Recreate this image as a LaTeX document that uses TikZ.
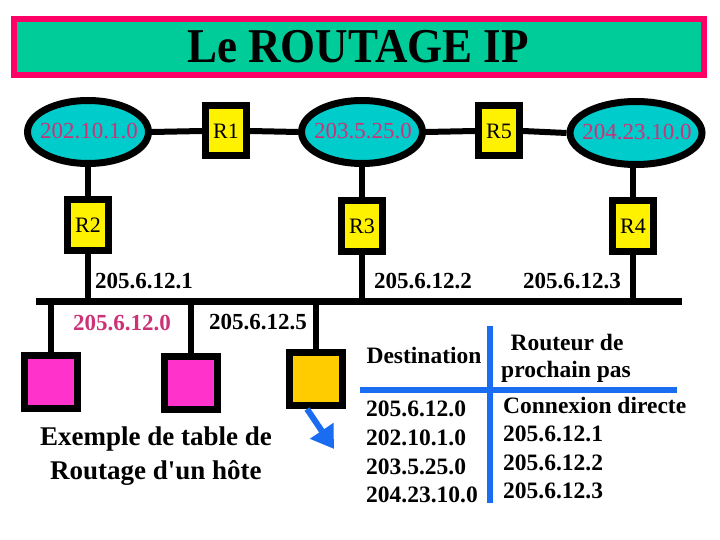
\documentclass[tikz,border=0pt]{standalone}
\usepackage{fontspec}
\setmainfont{Liberation Serif}
\newfontfamily\capfont{Liberation Serif}
\usetikzlibrary{arrows.meta,shapes.geometric}
\definecolor{titlefill}{RGB}{0,204,153}
\definecolor{titleborder}{RGB}{255,0,102}
\definecolor{netfill}{RGB}{0,204,204}
\definecolor{netlabel}{RGB}{204,51,119}
\definecolor{hostpink}{RGB}{255,51,204}
\definecolor{hostorange}{RGB}{255,204,0}
\definecolor{tblue}{RGB}{26,108,240}
\tikzset{
  netnode/.style={ellipse,draw=black,line width=7pt,fill=netfill,minimum width=121pt,minimum height=63pt,inner sep=0pt},
  nettext/.style={text=netlabel,font=\fontsize{23}{25}\selectfont,inner sep=0pt},
  router/.style={rectangle,draw=black,line width=7pt,fill=yellow,minimum width=41pt,minimum height=50pt,inner sep=0pt,font=\fontsize{22}{24}\selectfont},
  host/.style={rectangle,draw=black,line width=7pt,minimum size=53pt,inner sep=0pt},
  wire/.style={line width=6pt,draw=black},
  bus/.style={line width=7pt,draw=black},
  addr/.style={font=\fontsize{23}{25}\selectfont\bfseries,inner sep=0pt},
  tbl/.style={font=\fontsize{23.5}{25}\selectfont\bfseries,inner sep=0pt},
  bluerule/.style={line width=6pt,draw=tblue}
}
\begin{document}
\begin{tikzpicture}[x=1pt,y=-1pt]
\useasboundingbox (0,0) rectangle (720,540);
% title
\node[draw=titleborder,fill=titlefill,line width=6pt,minimum width=690pt,minimum height=56pt,inner sep=0pt] (title) at (359,47) {};
\node[font=\fontsize{45}{48}\selectfont\bfseries,inner sep=0pt,yscale=1.08] (titletext) at (358,47) {Le ROUTAGE IP};
% networks and routers top row
\node[netnode] (e1) at (88,132) {};
\node[nettext] (t1) at (89,131) {202.10.1.0};
\node[router] (r1) at (226,131) {R1};
\node[netnode] (e2) at (362,132) {};
\node[nettext] (t2) at (363,131) {203.5.25.0};
\node[router] (r5) at (499,131) {R5};
\node[netnode,minimum width=132pt] (e3) at (636,133) {};
\node[nettext] (t3) at (637,132) {204.23.10.0};
\draw[wire] (e1.east) -- (r1.west);
\draw[wire] (r1.east) -- (e2.west);
\draw[wire] (e2.east) -- (r5.west);
\draw[wire] (r5.east) -- (e3.west);
% second row routers
\node[router] (r2) at (88,225) {R2};
\node[router] (r3) at (362,226) {R3};
\node[router] (r4) at (633,226) {R4};
\draw[wire] (e1.south) -- (r2.north);
\draw[wire] (e2.south) -- (r3.north);
\draw[wire] (r4.north) -- (r4.north |- e3.south);
% bus
\coordinate (busL) at (36,301);
\coordinate (busR) at (682,301);
\draw[bus] (busL) -- (busR);
\draw[wire] (r2.south) -- (r2.south |- busL);
\draw[wire] (r3.south) -- (r3.south |- busL);
\draw[wire] (r4.south) -- (r4.south |- busL);
% bus labels
\node[addr] (a1) at (144,281) {205.6.12.1};
\node[addr] (a2) at (423,281) {205.6.12.2};
\node[addr] (a3) at (572,281) {205.6.12.3};
\node[addr,text=netlabel] (a0) at (122,323) {205.6.12.0};
\node[addr] (a5) at (258,322) {205.6.12.5};
% hosts
\node[host,fill=hostpink] (h1) at (51,382) {};
\node[host,fill=hostpink] (h2) at (191,383) {};
\node[host,fill=hostorange] (h3) at (316,379) {};
\draw[wire] (h1.north |- busL) -- (h1.north);
\draw[wire] (h2.north |- busL) -- (h2.north);
\draw[wire] (h3.north |- busL) -- (h3.north);
% arrow
\coordinate (arrtip) at (334,449);
\draw[line width=6pt,draw=tblue,-{Triangle[width=27pt,length=22pt]}] ([xshift=-9pt]h3.south) -- (arrtip);
% caption
\node[font=\capfont\fontsize{27}{29}\selectfont\bfseries,align=center,inner sep=0pt] (cap) at (156,456) {Exemple de table de\\[5pt]Routage d'un hôte};
% table
\coordinate (vtop) at (490,326);
\coordinate (vbot) at (490,503);
\coordinate (hl) at (360,390);
\coordinate (hr) at (677,390);
\draw[bluerule] (vtop) -- (vbot);
\draw[bluerule] (hl) -- (hr);
\node[tbl] (hdest) at (424,355) {Destination};
\node[tbl] (hrout1) at (567,342) {Routeur de};
\node[tbl] (hrout2) at (566,372) {prochain pas};
\node[tbl,anchor=west] (d1) at (366,409) {205.6.12.0};
\node[tbl,anchor=west] (d2) at (366,438) {202.10.1.0};
\node[tbl,anchor=west] (d3) at (366,467) {203.5.25.0};
\node[tbl,anchor=west] (d4) at (366,495) {204.23.10.0};
\node[tbl,anchor=west] (g1) at (503,405) {Connexion directe};
\node[tbl,anchor=west] (g2) at (503,434) {205.6.12.1};
\node[tbl,anchor=west] (g3) at (503,463) {205.6.12.2};
\node[tbl,anchor=west] (g4) at (503,491) {205.6.12.3};
\end{tikzpicture}
\end{document}
